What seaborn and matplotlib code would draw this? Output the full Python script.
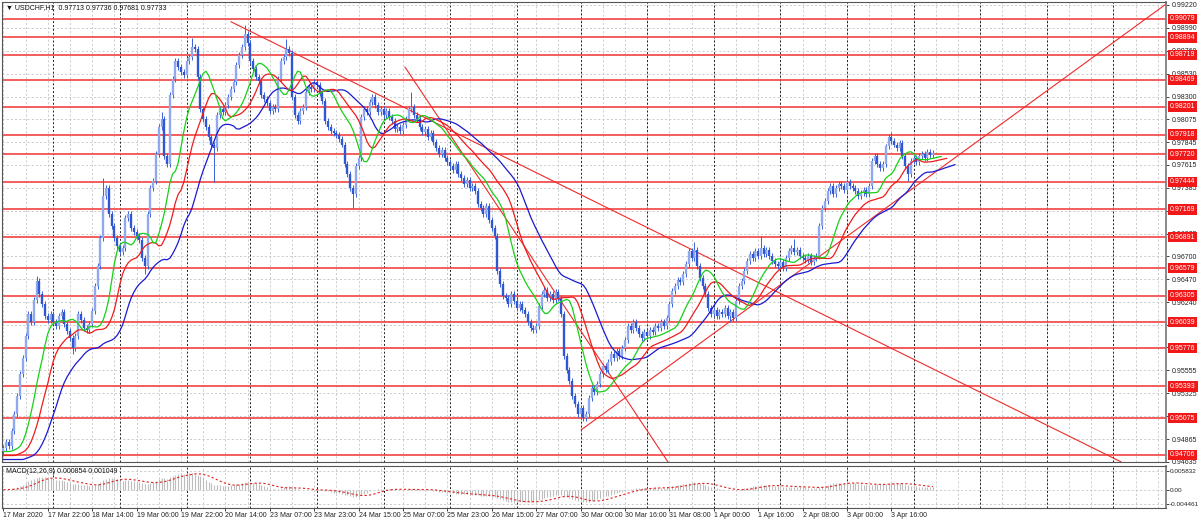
import numpy as np
import pandas as pd
import matplotlib
matplotlib.use("Agg")
import matplotlib.pyplot as plt
import seaborn as sns

# ---------------- data ----------------
symbol = "USDCHF,H1"
ohlc_text = "0.97713 0.97736 0.97681 0.97733"
macd_text = "MACD(12,26,9) 0.000854 0.001049"

# hourly closes in pips (price * 1e4), 17 Mar 06:00 -> 3 Apr
close_pips = [
    9478, 9484, 9480, 9495, 9512, 9530, 9552, 9568, 9590, 9612, 9604, 9626,
    9645, 9632, 9622, 9610, 9606, 9612, 9604, 9600, 9610, 9614, 9602, 9595,
    9588, 9578, 9590, 9612, 9606, 9598, 9596, 9602, 9615, 9640, 9660, 9688,
    9730, 9738, 9712, 9700, 9688, 9680, 9674, 9678, 9708, 9712, 9698, 9694,
    9690, 9686, 9668, 9660, 9712, 9738, 9745, 9772, 9800, 9808, 9770, 9762,
    9832, 9848, 9866, 9860, 9855, 9852, 9866, 9870, 9880, 9878, 9850, 9818,
    9808, 9800, 9790, 9782, 9778, 9812, 9818, 9815, 9822, 9830, 9838, 9845,
    9862, 9872, 9880, 9893, 9884, 9866, 9858, 9850, 9846, 9832, 9828, 9824,
    9816, 9820, 9818, 9848, 9866, 9870, 9878, 9874, 9830, 9812, 9806, 9816,
    9820, 9835, 9840, 9838, 9845, 9842, 9834, 9826, 9806, 9800, 9796, 9794,
    9792, 9788, 9782, 9762, 9752, 9738, 9732, 9760, 9768, 9810, 9818, 9815,
    9825, 9830, 9822, 9815, 9818, 9812, 9816, 9810, 9806, 9798, 9800, 9796,
    9802, 9808, 9818, 9820, 9812, 9808, 9800, 9795, 9798, 9790, 9794, 9785,
    9778, 9772, 9776, 9768, 9764, 9760, 9756, 9762, 9752, 9748, 9742, 9746,
    9738, 9740, 9735, 9722, 9718, 9712, 9720, 9706, 9698, 9690, 9655, 9642,
    9630, 9628, 9622, 9632, 9625, 9618, 9622, 9616, 9612, 9604, 9598, 9596,
    9600, 9620, 9632, 9636, 9628, 9632, 9626, 9634, 9628, 9612, 9570, 9556,
    9545, 9530, 9522, 9512, 9518, 9508, 9512, 9528, 9538, 9534, 9542, 9552,
    9560, 9556, 9564, 9572, 9568, 9575, 9570, 9578, 9586, 9600, 9596, 9604,
    9598, 9592, 9588, 9594, 9590, 9596, 9594, 9600, 9598, 9604, 9600, 9608,
    9622, 9635, 9640, 9646, 9644, 9652, 9662, 9675, 9668, 9676, 9660, 9648,
    9640, 9632, 9618, 9612, 9616, 9610, 9614, 9612, 9618, 9610, 9614, 9608,
    9625, 9640, 9645, 9655, 9665, 9672, 9668, 9675, 9670, 9678, 9672, 9676,
    9670, 9665, 9662, 9660, 9664, 9658, 9668, 9675, 9678, 9674, 9676, 9670,
    9668, 9666, 9670, 9664, 9668, 9670, 9700, 9718, 9725, 9735, 9740, 9732,
    9738, 9742, 9740, 9736, 9744, 9740, 9738, 9735, 9730, 9733, 9736, 9732,
    9740, 9765, 9770, 9762, 9758, 9762, 9780, 9790, 9786, 9782, 9778, 9784,
    9770, 9760, 9752, 9765, 9768, 9764, 9770, 9772, 9768, 9774, 9771, 9773,
]
first_open_pips = 9475
wick_pips = 3
# notable long wicks (bar -> extreme, pips)
wick_high = {12: 9650, 36: 9748, 57: 9815, 68: 9889, 87: 9902, 102: 9888,
             147: 9835, 249: 9684, 273: 9690, 285: 9687, 320: 9795}
wick_low = {25: 9572, 51: 9652, 76: 9744, 126: 9718, 210: 9505, 262: 9604,
            326: 9745}

# Alligator start values (jaw, teeth, lips)
jaw_start, teeth_start, lips_start = 0.9466, 0.9470, 0.9474

level_prices = [0.99079, 0.98894, 0.98719, 0.98469, 0.98201, 0.97918, 0.97720,
                0.97444, 0.97169, 0.96891, 0.96579, 0.96305, 0.96039, 0.95776,
                0.95393, 0.95075, 0.94706]
price_ticks = [0.99220, 0.98990, 0.98760, 0.98530, 0.98300, 0.98075, 0.97845,
               0.97615, 0.97385, 0.97155, 0.96925, 0.96700, 0.96470, 0.96240,
               0.96010, 0.95785, 0.95555, 0.95325, 0.95095, 0.94865, 0.94635]
macd_ticks = [0.005832, 0.0, -0.004461]
macd_tick_labels = ["0.005832", "0.00", "-0.004461"]

time_labels = ["17 Mar 2020", "17 Mar 22:00", "18 Mar 14:00", "19 Mar 06:00",
               "19 Mar 22:00", "20 Mar 14:00", "23 Mar 07:00", "23 Mar 23:00",
               "24 Mar 15:00", "25 Mar 07:00", "25 Mar 23:00", "26 Mar 15:00",
               "27 Mar 07:00", "30 Mar 00:00", "30 Mar 16:00", "31 Mar 08:00",
               "1 Apr 00:00", "1 Apr 16:00", "2 Apr 08:00", "3 Apr 00:00",
               "3 Apr 16:00"]
label_bars = [0, 16, 32, 48, 64, 80, 96, 112, 128, 144, 160, 176, 192, 208,
              224, 240, 256, 272, 288, 304, 320]
day_start_bars = [18, 42, 66, 89, 113, 137, 161, 185, 208, 232, 256, 280, 304,
                  328, 352, 376, 400]

# trend lines: (bar, price) -> (bar, price)
trend_lines = [((82.0, 0.99052), (402.8, 0.94636)),
               ((144.7, 0.98598), (239.5, 0.94636)),
               ((208.2, 0.94957), (419.5, 0.99239))]

# ---------------- derived series ----------------
c = np.array(close_pips, float) / 1e4
N = len(c)
o = np.r_[first_open_pips / 1e4, c[:-1]]
hi = np.maximum(o, c) + wick_pips / 1e4
lo = np.minimum(o, c) - wick_pips / 1e4
for k, v in wick_high.items():
    hi[k] = max(hi[k], v / 1e4)
for k, v in wick_low.items():
    lo[k] = min(lo[k], v / 1e4)
med = (hi + lo) / 2


def smma(src, n, start):
    out, v = [], start
    for p in src:
        v = (v * (n - 1) + p) / n
        out.append(v)
    return np.array(out)


def ema(src, n):
    a = 2 / (n + 1)
    out = [src[0]]
    for p in src[1:]:
        out.append(out[-1] + a * (p - out[-1]))
    return np.array(out)


jaw = np.r_[np.full(8, jaw_start), smma(med, 13, jaw_start)]
teeth = np.r_[np.full(5, teeth_start), smma(med, 8, teeth_start)]
lips = np.r_[np.full(3, lips_start), smma(med, 5, lips_start)]

macd = ema(c, 12) - ema(c, 26)
signal = pd.Series(macd).rolling(9, min_periods=1).mean().values

# ---------------- figure ----------------
sns.set_theme(style="white")
plt.rcParams["font.family"] = ["Liberation Sans", "DejaVu Sans"]
plt.rcParams["axes.edgecolor"] = "#555555"
plt.rcParams["axes.linewidth"] = 0.8

W, H = 1200, 524
fig = plt.figure(figsize=(W / 100, H / 100), dpi=100)
fig.patch.set_facecolor("white")

px = 2.775          # pixels per bar
x0px = 3.35         # pixel of bar 0
ax_l, ax_r = 2, 1166
xl = ((ax_l - x0px) / px, (ax_r - x0px) / px)

ax = fig.add_axes([ax_l / W, 1 - 462 / H, (ax_r - ax_l) / W, 460 / H])
ax2 = fig.add_axes([ax_l / W, 1 - 508 / H, (ax_r - ax_l) / W, 42 / H])

ppu = 9970.0
ax.set_xlim(*xl)
ax.set_ylim(0.99079 - (462 - 19) / ppu, 0.99079 + (19 - 2) / ppu)
ax2.set_xlim(*xl)
ax2.set_ylim(-0.00571, 0.00739)

grid_kw = dict(color="#c4c4c4", lw=0.6, ls=(0, (2.5, 2.5)), zorder=0)
sep_kw = dict(color="#202020", lw=0.7, ls=(0, (2, 2)), zorder=0.5)
for a in (ax, ax2):
    for b in range(0, int(xl[1]) + 1, 8):
        a.axvline(b, **grid_kw)
    for b in day_start_bars:
        a.axvline(b, **sep_kw)
for p in price_ticks:
    ax.axhline(p, **grid_kw)
for p in macd_ticks:
    ax2.axhline(p, **grid_kw)

# support / resistance levels
for p in level_prices:
    ax.axhline(p, color="#f24a4a", lw=1.25, zorder=1)

# trend lines
for (b1, p1), (b2, p2) in trend_lines:
    sns.lineplot(x=[b1, b2], y=[p1, p2], ax=ax, color="#f02a2a", lw=0.8,
                 zorder=2, estimator=None, sort=False)

# candles
xs = np.arange(N)
up = c >= o
body_lo = np.minimum(o, c)
body_hi = np.maximum(np.maximum(o, c), body_lo + 0.00006)
ax.vlines(xs, lo, hi, colors="#3a62d8", lw=0.7, zorder=3)
ax.vlines(xs[up], body_lo[up], body_hi[up], colors="#8fa8ee", lw=1.7, zorder=4)
ax.vlines(xs[~up], body_lo[~up], body_hi[~up], colors="#2f57d4", lw=1.7, zorder=4)

# Alligator lines
sns.lineplot(x=np.arange(len(jaw)), y=jaw, ax=ax, color="#1a1ad0", lw=0.9, zorder=5)
sns.lineplot(x=np.arange(len(teeth)), y=teeth, ax=ax, color="#ee1c1c", lw=0.9, zorder=5)
sns.lineplot(x=np.arange(len(lips)), y=lips, ax=ax, color="#18d018", lw=0.9, zorder=5)

# MACD
ax2.vlines(xs, 0, macd, colors="#bdbdbd", lw=0.8, zorder=2)
sns.lineplot(x=xs, y=signal, ax=ax2, color="#e02020", lw=0.8, zorder=3)
ax2.lines[-1].set_linestyle((0, (2, 2)))

# axes / ticks
for a in (ax, ax2):
    a.yaxis.tick_right()
    for s in a.spines.values():
        s.set_color("#555555")
    a.spines["right"].set_color("#808080")
    a.spines["right"].set_linewidth(1.3)

ax.set_yticks(price_ticks)
ax.set_yticklabels([f"{p:.5f}" for p in price_ticks])
ax.tick_params(axis="y", labelsize=5, length=2.5, pad=1.5, colors="#222222",
               width=0.6)
ax.set_xticks([])
ax2.set_yticks(macd_ticks)
ax2.set_yticklabels(macd_tick_labels)
ax2.tick_params(axis="y", labelsize=4.6, length=2, pad=1, colors="#222222",
                width=0.6)
ax2.set_xticks(label_bars)
ax2.set_xticklabels(time_labels, ha="left")
ax2.tick_params(axis="x", labelsize=5, length=2, pad=0.8, colors="#222222",
                width=0.6, bottom=True)
ax.set_xlabel("")
ax.set_ylabel("")
ax2.set_xlabel("")
ax2.set_ylabel("")

# red price tags on the right scale
for p in level_prices:
    ax.text(1.0035, p, f"{p:.5f}", transform=ax.get_yaxis_transform(),
            ha="left", va="center", fontsize=5, color="white",
            bbox=dict(boxstyle="square,pad=0.25", fc="#f01818", ec="none"),
            zorder=20, clip_on=False)

# headers
fig.text(6 / W, 1 - 7.5 / H, f"▼ {symbol}  {ohlc_text}", fontsize=5,
         color="#111111", va="center", ha="left")
ax2.text(0.0035, 0.86, macd_text, transform=ax2.transAxes, fontsize=5,
         color="#111111", va="center", ha="left")

fig.savefig("out.png", dpi=100, facecolor="white")
